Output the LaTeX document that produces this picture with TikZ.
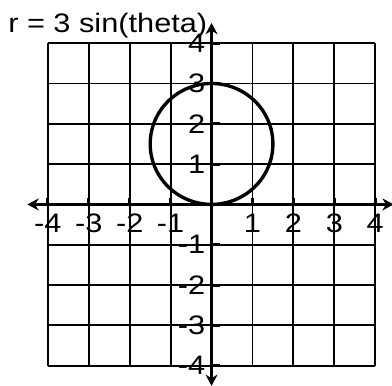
\documentclass[tikz,border=0pt]{standalone}
\usepackage{fontspec}
\setmainfont{Liberation Sans}[FakeStretch=1.15]
\usetikzlibrary{arrows.meta}
\begin{document}
\begin{tikzpicture}[>={Stealth[length=8pt,width=8.5pt]},x=1.0225cm,y=1.0075cm,
    lbl/.style={inner sep=0pt,font=\fontsize{19}{21}\selectfont}]
  \def\R{1.5} % ban kinh
  \useasboundingbox (-5.17,-4.48) rectangle (4.41,5.07);
  % luoi
  \foreach \k in {-4,...,4}{
    \draw[line width=1.3pt] (\k,-4) -- (\k,4);
    \draw[line width=1.3pt] (-4,\k) -- (4,\k);
  }
  \draw[<->,line width=2.6pt] (-4.5,0) -- (4.45,0);
  \draw[<->,line width=2.6pt] (0,-4.5) -- (0,4.5);
  \foreach \k in {-4,-3,-2,-1,1,2,3,4}{
    \draw[line width=2.1pt] (\k,0) -- (\k,0.17);
    \draw[line width=2.1pt] (0,\k) -- (0.2,\k);
    \node[lbl] (x\k) at (\k,-0.46) {\k};
    \node[lbl,anchor=east] (y\k) at (-0.15,\k) {\k};
  }
  \node[lbl,anchor=base west] (title) at (-4.975,4.255) {r = 3 sin(theta)};
  \draw[line width=2.4pt,samples=90,smooth cycle,domain=0:178] plot({3*sin(\x)*cos(\x)},{3*sin(\x)*sin(\x)});
\end{tikzpicture}
\end{document}
